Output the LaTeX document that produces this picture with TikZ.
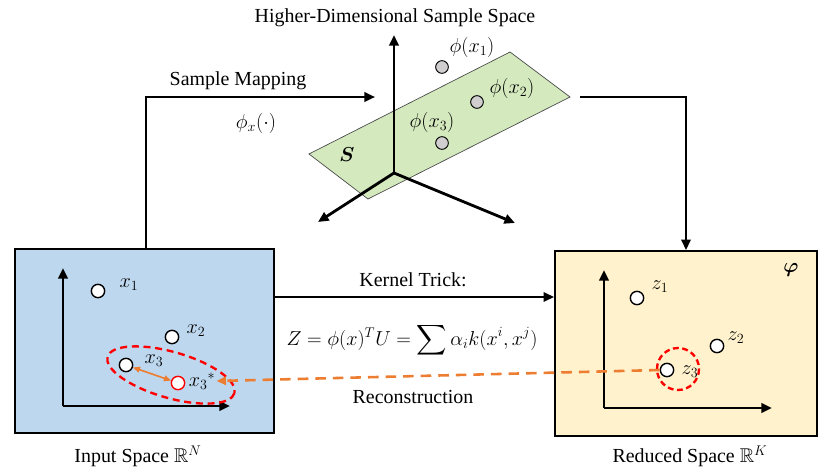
\documentclass[tikz,border=0pt]{standalone}
\usepackage{amsmath,amssymb}
\usepackage{fontspec}
\setmainfont{Liberation Serif}
\usetikzlibrary{arrows.meta,shapes.geometric,positioning}

\definecolor{inblue}{RGB}{189,215,238}
\definecolor{outyellow}{RGB}{255,242,204}
\definecolor{planegreen}{RGB}{212,234,190}
\definecolor{recorange}{RGB}{237,125,49}
\definecolor{dotgray}{RGB}{208,206,206}

\tikzset{
  spacebox/.style={draw, line width=1.6pt, inner sep=0pt},
  axisline/.style={line width=2.4pt, -{Triangle[length=9pt,width=8pt]}},
  conn/.style={line width=2pt, -{Triangle[length=9pt,width=8pt]}},
  sample/.style={circle, draw, line width=1.2pt, fill=white, minimum size=0.4cm, inner sep=0pt},
  hdsample/.style={circle, draw, line width=0.8pt, fill=dotgray, minimum size=0.38cm, inner sep=0pt},
  lbl/.style={inner sep=1pt, font=\fontsize{18}{21}\selectfont}
}

\begin{document}
\begin{tikzpicture}[x=0.03cm,y=-0.03cm,font=\fontsize{17}{20}\selectfont]

\useasboundingbox (0,0) rectangle (831,475);

% Spaces
\node[spacebox, fill=inblue, minimum width=7.77cm, minimum height=5.52cm] (inbox) at (144.5,341) {};
\node[spacebox, fill=outyellow, minimum width=7.86cm, minimum height=5.55cm] (redbox) at (686,343.5) {};
\node (inlabel) at (138,456) {Input Space $\mathbb{R}^N$};
\node (redlabel) at (690,456) {Reduced Space $\mathbb{R}^K$};
\node[font=\fontsize{19}{22}\selectfont] (phi) at (791,270) {$\boldsymbol{\varphi}$};

% Axis (input space)
\coordinate (io) at (63,406);
\draw[axisline] (io) -- (63,268);
\draw[axisline] (io) -- (230,406);

% Axis (reduced space)
\coordinate (ro) at (604,408);
\draw[axisline] (ro) -- (604,270);
\draw[axisline] (ro) -- (772,408);

% Input samples
\node[sample] (x1) at (98,291) {};
\node[sample] (x2) at (172,337) {};
\node[sample] (x3) at (126,365) {};
\node[sample, draw=red] (x3s) at (178,383) {};
\node[lbl] (x1l) at (129,285) {$x_1$};
\node[lbl] (x2l) at (196,331) {$x_2$};
\node[lbl] (x3l) at (154,361) {$x_3$};
\node[lbl] (x3sl) at (202,381) {$x_3{}^{*}$};
\draw[red, line width=2pt, dash pattern=on 6pt off 4pt, rotate around={-16:(171,375)}]
      (171,375) ellipse (66 and 23);
\draw[recorange, line width=1.4pt, {Triangle[length=6pt,width=5pt]}-{Triangle[length=6pt,width=5pt]}]
      (x3) -- (x3s);

% Reduced samples
\node[sample] (z1) at (637,298) {};
\node[sample] (z2) at (717,346) {};
\node[sample] (z3) at (667,370) {};
\node[lbl] (z1l) at (660,287) {$z_1$};
\node[lbl] (z2l) at (736,338) {$z_2$};
\node[lbl] (z3l) at (690,372) {$z_3$};
\draw[red, line width=2pt, dash pattern=on 5pt off 3pt] (678,369) circle (21);

% Higher-dimensional sample space
\node (hdtitle) at (395,18) {Higher-Dimensional Sample Space};
\filldraw[fill=planegreen, draw=black!70, line width=0.6pt]
      (309,154) -- (510,52) -- (570,97) -- (368,199) -- cycle;
\node[font=\fontsize{19}{22}\selectfont] (S) at (347,155) {$\boldsymbol{S}$};
\coordinate (ho) at (394,173);
\draw[axisline] (ho) -- (394,35);
\draw[axisline] (ho) -- (318,222);
\draw[axisline] (ho) -- (515,223);
\node[hdsample] (p1) at (442,67) {};
\node[hdsample] (p2) at (477,102) {};
\node[hdsample] (p3) at (442,143) {};
\node[lbl] (p1l) at (472,47) {$\phi(x_1)$};
\node[lbl] (p2l) at (512,88) {$\phi(x_2)$};
\node[lbl] (p3l) at (432,122) {$\phi(x_3)$};

% Sample mapping
\coordinate (smturn) at (146,97);
\coordinate (smend) at (375,97);
\draw[conn] (inbox.north -| smturn) -- (smturn) -- (smend);
\node (smlabel) at (238,81) {Sample Mapping};
\node[lbl] (smfun) at (256,123) {$\phi_x(\cdot)$};

% To reduced space
\coordinate (rmstart) at (580,97);
\draw[conn] (rmstart) -| (redbox.north);

% Kernel trick
\coordinate (kt) at (0,297);
\draw[conn] (inbox.east |- kt) -- (redbox.west |- kt);
\node (ktlabel) at (413,280) {Kernel Trick:};
\node[font=\fontsize{18}{21}\selectfont] (formula) at (412,340) {$Z=\phi(x)^T U=\displaystyle\sum \alpha_i k(x^i,x^j)$};

% Reconstruction
\draw[recorange, line width=2.2pt, dash pattern=on 9pt off 6pt, -{Triangle[length=8pt,width=7pt]}]
      (z3.west) -- (x3sl.east);
\node (reclabel) at (413,397) {Reconstruction};

\end{tikzpicture}
\end{document}
